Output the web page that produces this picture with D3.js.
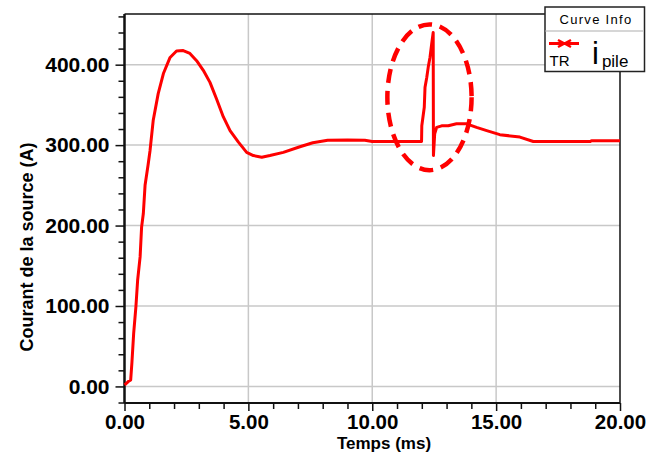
<!DOCTYPE html>
<html><head><meta charset="utf-8">
<script src="https://cdn.jsdelivr.net/npm/d3@7"></script>
<style>
html,body{margin:0;padding:0;background:#fff;}
svg{display:block;}
</style></head>
<body><svg id="c" width="661" height="454"></svg>
<script>
// ---- data ----
const timeMs = [0.00,0.05,0.15,0.25,0.30,0.37,0.46,0.53,0.63,0.69,0.76,0.83,0.95,1.03,1.16,1.36,1.57,1.84,2.10,2.37,2.64,2.91,3.18,3.45,3.72,3.99,4.26,4.59,4.93,5.20,5.54,5.87,6.41,7.08,7.60,8.20,9.00,9.70,10.00,11.00,11.99,12.00,12.10,12.13,12.20,12.26,12.33,12.40,12.46,12.47,12.52,12.60,12.80,13.07,13.40,13.81,14.21,14.62,15.15,15.96,16.50,18.80,18.85,20.00];
const currentA = [2,3,6,8,30,66,99,132,161,198,215,250,275,293,331,364,389,409,417,417.5,414,405,393,378,357,335,318,304,291,287,285,287,291,298,303,306,306.5,306,304.5,304.5,304.5,324,347,372,384,397,409,426,440,287,314,322,324,324,326.5,326.5,322,318,313,310,304.5,304.5,305.5,305.5];
const xTicks = [0,5,10,15,20];
const xTickLabels = ["0.00","5.00","10.00","15.00","20.00"];
const yTicks = [0,100,200,300,400];
const yTickLabels = ["0.00","100.00","200.00","300.00","400.00"];
const highlight = {t:12.31, a:359.5, rt:1.70, ra:90.6};
const seriesName = "i";
const seriesSub = "pile";

const svg = d3.select("#c");
const L=124.5, R=620, T=14, B=403;
const x = d3.scaleLinear().domain([0,20]).range([L,R]);
const y = d3.scaleLinear().domain([-20.6,463]).range([B,T]);
const FONT = "'Liberation Sans', Arial, sans-serif";

// grid
svg.append("g").selectAll("line").data(xTicks.filter(d=>d>0&&d<20)).join("line")
  .attr("x1",d=>x(d)).attr("x2",d=>x(d)).attr("y1",T).attr("y2",B)
  .attr("stroke","#c8c8c8").attr("stroke-width",1.5);
svg.append("g").selectAll("line").data(yTicks).join("line")
  .attr("x1",L).attr("x2",R).attr("y1",d=>y(d)).attr("y2",d=>y(d))
  .attr("stroke","#c8c8c8").attr("stroke-width",1.5);

// frame top/right
svg.append("line").attr("x1",L).attr("x2",R).attr("y1",T).attr("y2",T).attr("stroke","#111").attr("stroke-width",1.5);
svg.append("line").attr("x1",R).attr("x2",R).attr("y1",T).attr("y2",B).attr("stroke","#111").attr("stroke-width",1.5);

// axes
const xMinor = d3.range(0,21,1).filter(d=>d%5!==0);
const yMinor = d3.range(-20,461,20).filter(d=>d%100!==0);
const gx = svg.append("g").attr("transform",`translate(0,${B})`);
gx.call(d3.axisBottom(x).tickValues(xMinor).tickSize(6).tickFormat(""));
gx.call(g=>g.selectAll(".tick line").attr("stroke-width",1.5).attr("stroke","#111"));
const gx2 = svg.append("g").attr("transform",`translate(0,${B})`);
gx2.call(d3.axisBottom(x).tickValues(xTicks).tickSize(8).tickPadding(3).tickFormat((d,i)=>xTickLabels[i]));
gx2.selectAll(".tick line").attr("stroke-width",1.5).attr("stroke","#111");
gx2.selectAll("text").attr("font-family",FONT).attr("font-weight","bold").attr("font-size",20.5).attr("fill","#000").attr("dy","0.71em");
[gx,gx2].forEach(g=>g.select(".domain").attr("stroke","#111").attr("stroke-width",2).attr("d",`M${L},0H${R}`));

const gy = svg.append("g").attr("transform",`translate(${L},0)`);
gy.call(d3.axisLeft(y).tickValues(yMinor).tickSize(6).tickFormat(""));
gy.selectAll(".tick line").attr("stroke-width",1.5).attr("stroke","#111");
const gy2 = svg.append("g").attr("transform",`translate(${L},0)`);
gy2.call(d3.axisLeft(y).tickValues(yTicks).tickSize(9).tickPadding(6).tickFormat((d,i)=>yTickLabels[i]));
gy2.selectAll(".tick line").attr("stroke-width",1.5).attr("stroke","#111");
gy2.selectAll("text").attr("font-family",FONT).attr("font-weight","bold").attr("font-size",21).attr("fill","#000");
[gy,gy2].forEach(g=>g.select(".domain").attr("stroke","#111").attr("stroke-width",2).attr("d",`M0,${T}V${B}`));

// curve
const pts = timeMs.map((t,i)=>[t,currentA[i]]);
svg.append("path").datum(pts)
  .attr("d",d3.line().x(d=>x(d[0])).y(d=>y(d[1])))
  .attr("fill","none").attr("stroke","#ff0000").attr("stroke-width",3).attr("stroke-linejoin","round");

// highlight ellipse
svg.append("ellipse")
  .attr("cx",x(highlight.t)).attr("cy",y(highlight.a))
  .attr("rx",x(highlight.t+highlight.rt)-x(highlight.t))
  .attr("ry",y(highlight.a-highlight.ra)-y(highlight.a))
  .attr("fill","none").attr("stroke","#ff0000").attr("stroke-width",4.5)
  .attr("stroke-dasharray","14,8");

// axis titles
svg.append("text").attr("x",384).attr("y",449).attr("text-anchor","middle")
  .attr("font-family",FONT).attr("font-weight","bold").attr("font-size",17).text("Temps (ms)");
svg.append("text").attr("transform","translate(33,247) rotate(-90)").attr("text-anchor","middle")
  .attr("font-family",FONT).attr("font-weight","bold").attr("font-size",18).text("Courant de la source (A)");

// legend
const lg = svg.append("g");
lg.append("rect").attr("x",545).attr("y",7).attr("width",99.5).attr("height",64.5)
  .attr("fill","#fff").attr("stroke","#222").attr("stroke-width",1.5);
lg.append("line").attr("x1",545.5).attr("x2",643.5).attr("y1",31).attr("y2",31).attr("stroke","#c8c8c8").attr("stroke-width",1.5);
lg.append("text").attr("x",596).attr("y",24).attr("text-anchor","middle")
  .attr("font-family",FONT).attr("font-size",13).attr("letter-spacing",1.3).text("Curve Info");
lg.append("line").attr("x1",549).attr("x2",579).attr("y1",43.5).attr("y2",43.5).attr("stroke","#ff0000").attr("stroke-width",3);
lg.append("path").attr("d","M558,40L571,47M558,47L571,40").attr("stroke","#ff0000").attr("stroke-width",2.5).attr("fill","none");
lg.append("text").attr("x",549.5).attr("y",66).attr("font-family",FONT).attr("font-size",15).text("TR");
const lt = lg.append("text").attr("x",592).attr("y",63.5).attr("font-family",FONT).attr("font-size",31);
lt.append("tspan").text(seriesName);
lt.append("tspan").attr("font-size",17).attr("dy",3).attr("dx",3).text(seriesSub);
</script></body></html>
